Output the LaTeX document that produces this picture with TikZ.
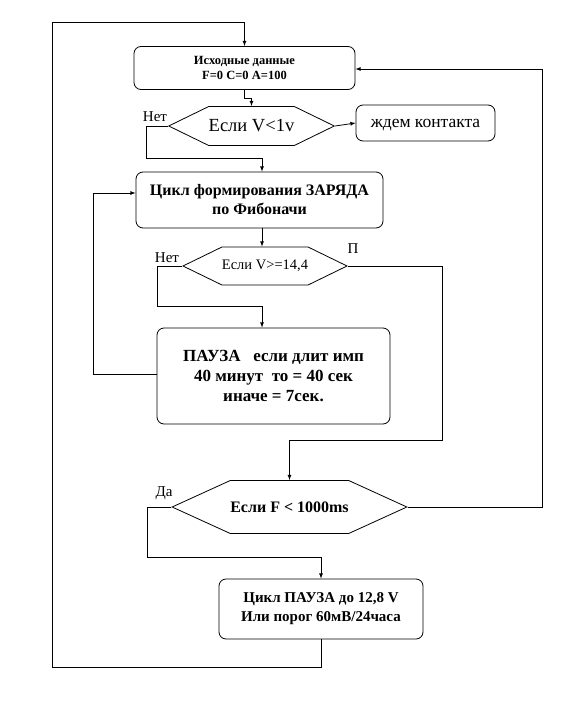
\documentclass[tikz,border=0pt]{standalone}
\usepackage{fontspec}
\setmainfont{Liberation Serif}
\usetikzlibrary{shapes.symbols}
\begin{document}
\begin{tikzpicture}[>=latex, x=1pt, y=-1pt, line width=0.8pt,
    box/.style={draw, rounded corners=7pt, align=center, inner sep=0pt},
    hexa/.style={draw, signal, signal to=west and east, signal pointer angle=52,
        align=center, inner sep=0pt},
    lbl/.style={font=\fontsize{15}{15}\selectfont, inner sep=0pt}]
\useasboundingbox (0,0) rectangle (583,701);
% blocks
\node[box, minimum width=221, minimum height=43,
    font=\bfseries\fontsize{12.5}{15}\selectfont] (init) at (244.5,68)
    {Исходные данные\\F=0 C=0 A=100};
\node[hexa, minimum width=159, minimum height=39,
    font=\fontsize{18.5}{18.5}\selectfont] (vlow) at (251.5,126) {Если V<1v};
\node[box, minimum width=139, minimum height=36, text depth=0pt,
    font=\fontsize{17.5}{17.5}\selectfont] (wait) at (425.5,123) {ждем контакта};
\node[box, minimum width=247, minimum height=56,
    font=\bfseries\fontsize{16}{19}\selectfont] (charge) at (259.5,200)
    {Цикл формирования ЗАРЯДА\\по Фибоначи};
\node[hexa, minimum width=160, minimum height=38,
    font=\fontsize{14.5}{14.5}\selectfont] (vhigh) at (265,266) {Если V>=14,4};
\node[box, minimum width=233, minimum height=96,
    font=\bfseries\fontsize{17}{20}\selectfont] (pause) at (273.5,376)
    {ПАУЗА\ \ \ если длит имп\\40 минут\ \ то = 40 сек\\иначе = 7сек.};
\node[hexa, minimum width=233, minimum height=53, signal pointer angle=49,
    font=\bfseries\fontsize{16}{16}\selectfont] (fcheck) at (289.5,507)
    {Если F < 1000ms};
\node[box, minimum width=204, minimum height=60,
    font=\bfseries\fontsize{15}{19}\selectfont] (hold) at (321,609)
    {Цикл ПАУЗА до 12,8 V\\Или порог 60мВ/24часа};
% labels
\node[lbl] (no1) at (155,117) {Нет};
\node[lbl] (no2) at (167,258) {Нет};
\node[lbl] (yes) at (164,493) {Да};
\node[lbl] (pi) at (353,249) {П};
% connectors
\draw[->] (hold.south) |- (52,667) |- (init.north |- 0,22) -- (init.north);
\draw[->] (init.south) -- ++(0,8) -| (vlow.north);
\draw[->] (vlow.east) -- (wait.west);
\draw[->] (vlow.west) -| (146,158) -| (charge.north -| 262,0);
\draw[->] (charge.south -| 262,0) -- (vhigh.north -| 262,0);
\draw[->] (vhigh.west) -| (157,306) -| (pause.north -| 262,0);
\draw[->] (pause.west |- 0,374) -| (93,193) -- (charge.west |- 0,193);
\draw[->] (vhigh.east) -| (442,440) -| (fcheck.north);
\draw[->] (fcheck.east) -| (542,69) -- (init.east |- 0,69);
\draw[->] (fcheck.west) -| (147,557) -| (hold.north);
\end{tikzpicture}
\end{document}
